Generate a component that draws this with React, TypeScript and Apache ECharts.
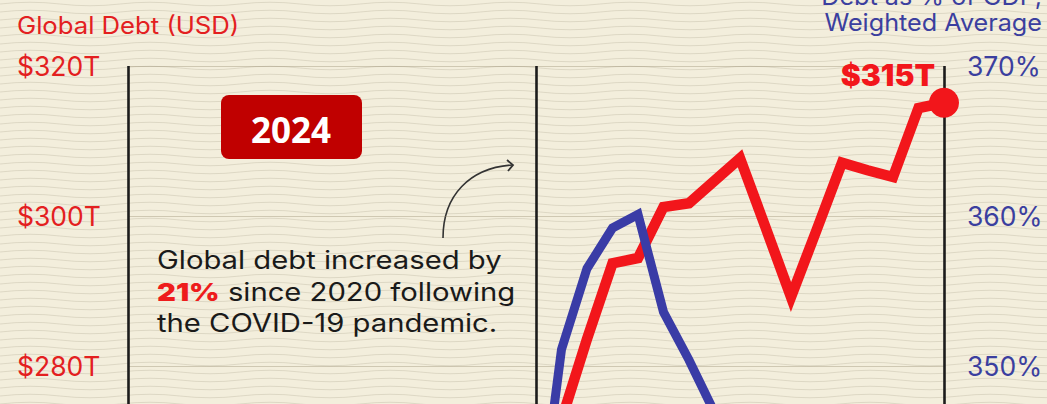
import React, { useEffect, useRef } from "react";
import * as echarts from "echarts";

// Quarterly categories, 2016 Q1 – 2024 Q1
const years = [2016, 2017, 2018, 2019, 2020, 2021, 2022, 2023, 2024];
const quarterNames = ["Q1", "Q2", "Q3", "Q4"];
const categories: string[] = years
  .flatMap((y) => quarterNames.map((q) => `${y} ${q}`))
  .slice(0, 33);

// Global debt, trillions USD (pre-2020 below the visible window)
const debtUSD: (number | null)[] = [
  null, null, null, null, null, null, null, null,
  null, null, null, null, null, null, null, null,
  262, 272.8, 283.6, 293.7, 294.4, 301.2, 301.7, 304.7,
  307.7, 298.5, 289.2, 298.1, 307.1, 306.1, 305.2, 314.4,
  315.1,
];

// Debt as % of GDP, weighted average
const debtPctGDP: (number | null)[] = [
  null, null, null, null, null, null, null, null,
  null, null, null, null, null, null, null, null,
  338, 351.1, 356.5, 359.2, 360.1, 353.6, 350.4, 346.9,
  344, null, null, null, null, null, null, null,
  null,
];

const leftTicks = { min: 260, max: 320, step: 20 };
const rightTicks = { min: 340, max: 370, step: 10 };

const RED = "#f2161b";
const RED_TEXT = "#e3201f";
const BLUE = "#3a3ca6";
const BLUE_TEXT = "#3b3f9f";

const waveSvg =
  "<svg xmlns='http://www.w3.org/2000/svg' width='120' height='8'><path d='M0 4 Q30 0.5 60 4 T120 4' fill='none' stroke='%23a9a28c' stroke-opacity='0.38' stroke-width='0.8'/></svg>";

export default function App() {
  const ref = useRef<HTMLDivElement>(null);

  useEffect(() => {
    if (!ref.current) return;
    const chart = echarts.init(ref.current, undefined, { renderer: "svg" });
    const lastIdx = debtUSD.length - 1;
    const lastVal = debtUSD[lastIdx] as number;

    chart.setOption({
      animation: false,
      backgroundColor: "transparent",
      grid: {
        left: 128,
        right: 103,
        top: 66,
        height: 450,
        outerBoundsMode: "none",
        containLabel: false,
      },
      xAxis: {
        type: "category",
        data: categories,
        boundaryGap: false,
        axisLine: { show: false },
        axisTick: { show: false },
        axisLabel: { show: false },
        splitLine: {
          show: true,
          interval: (i: number) => i % 16 === 0,
          lineStyle: { color: "#1c1c1c", width: 2.6 },
        },
      },
      yAxis: [
        {
          type: "value",
          position: "left",
          min: leftTicks.min,
          max: leftTicks.max,
          interval: leftTicks.step,
          axisLine: { show: false },
          axisTick: { show: false },
          axisLabel: {
            showMinLabel: false,
            formatter: (v: number) => `$${v}T`,
            color: RED_TEXT,
            fontSize: 26.5,
            fontFamily: "Inter",
            align: "left",
            margin: 111,
          },
          splitLine: {
            show: true,
            lineStyle: { color: "rgba(140,130,100,0.35)", width: 1.2 },
          },
        },
        {
          type: "value",
          position: "right",
          min: rightTicks.min,
          max: rightTicks.max,
          interval: rightTicks.step,
          axisLine: { show: false },
          axisTick: { show: false },
          axisLabel: {
            showMinLabel: false,
            formatter: (v: number) => `${v}%`,
            color: BLUE_TEXT,
            fontSize: 26.5,
            fontFamily: "Inter",
            align: "left",
            margin: 23,
          },
          splitLine: { show: false },
        },
      ],
      series: [
        {
          name: "Global Debt (USD)",
          type: "line",
          yAxisIndex: 0,
          data: debtUSD,
          showSymbol: false,
          connectNulls: false,
          lineStyle: { color: RED, width: 10.5, join: "miter", cap: "butt" },
          z: 3,
        },
        {
          name: "Debt as % of GDP",
          type: "line",
          yAxisIndex: 1,
          data: debtPctGDP,
          showSymbol: false,
          lineStyle: { color: BLUE, width: 9, join: "miter", cap: "butt" },
          z: 4,
        },
        {
          name: "Latest",
          type: "scatter",
          yAxisIndex: 0,
          data: [[categories[lastIdx], lastVal]],
          symbol: "circle",
          symbolSize: 30,
          itemStyle: { color: RED, opacity: 1 },
          label: {
            show: true,
            position: [6, -13],
            align: "right",
            verticalAlign: "middle",
            formatter: () => `$${Math.round(lastVal)}T`,
            color: RED,
            fontFamily: "Inter",
            fontWeight: 900,
            fontSize: 30,
          },
          z: 5,
        },
      ],
      graphic: [
        {
          type: "text",
          x: 17,
          y: 25,
          scaleX: 1.07,
          style: {
            text: "Global Debt (USD)",
            fill: RED_TEXT,
            fontFamily: "Inter",
            fontSize: 24,
            align: "left",
            verticalAlign: "middle",
          },
        },
        {
          type: "text",
          x: 1042,
          y: -4,
          scaleX: 1.05,
          style: {
            text: "Debt as % of GDP,",
            fill: BLUE_TEXT,
            fontFamily: "Inter",
            fontSize: 24,
            align: "right",
            verticalAlign: "middle",
          },
        },
        {
          type: "text",
          x: 1042,
          y: 22,
          scaleX: 1.05,
          style: {
            text: "Weighted Average",
            fill: BLUE_TEXT,
            fontFamily: "Inter",
            fontSize: 24,
            align: "right",
            verticalAlign: "middle",
          },
        },
        {
          type: "rect",
          shape: { x: 221, y: 95, width: 141, height: 64, r: 8 },
          style: { fill: "#c00000" },
        },
        {
          type: "text",
          x: 291,
          y: 129,
          style: {
            text: "2024",
            fill: "#ffffff",
            fontFamily: "Open Sans",
            fontWeight: "bold",
            fontSize: 35,
            align: "center",
            verticalAlign: "middle",
          },
        },
        {
          type: "text",
          x: 157,
          y: 292,
          scaleX: 1.17,
          style: {
            text: "Global debt increased by\n{r|21%} since 2020 following\nthe COVID-19 pandemic.",
            fill: "#1a1a1a",
            fontFamily: "Inter",
            fontSize: 25,
            lineHeight: 31.5,
            align: "left",
            verticalAlign: "middle",
            rich: {
              r: {
                fill: "#ee1c1c",
                fontFamily: "Inter",
                fontWeight: 900,
                fontSize: 25,
                lineHeight: 31.5,
              },
            },
          },
        },
        {
          type: "bezierCurve",
          shape: { x1: 443, y1: 238, cpx1: 443, cpy1: 195, cpx2: 470, cpy2: 168, x2: 512, y2: 165 },
          style: { stroke: "#333", lineWidth: 1.6, fill: "none" },
        },
        {
          type: "polyline",
          shape: { points: [[507, 160], [513, 165], [508, 171]] },
          style: { stroke: "#333", lineWidth: 1.8, fill: "none" },
        },
      ],
    });

    return () => chart.dispose();
  }, []);

  return (
    <div
      ref={ref}
      style={{
        position: "absolute",
        left: 0,
        top: 0,
        width: 1047,
        height: 404,
        backgroundColor: "#f3eedc",
        backgroundImage: `url("data:image/svg+xml,${waveSvg}")`,
        backgroundRepeat: "repeat",
        overflow: "hidden",
      }}
    />
  );
}
